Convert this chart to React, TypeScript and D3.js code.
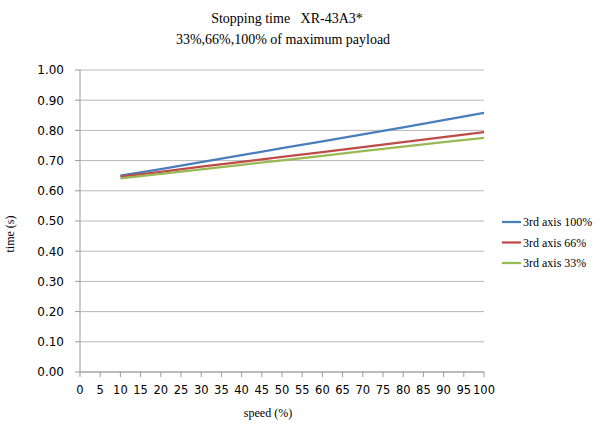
import React from "react";
import * as d3 from "d3";

// speed (%) at which the stopping time was measured
const speeds = [10, 20, 30, 40, 50, 60, 70, 80, 90, 100];

// stopping time (s) per payload
const axis100 = [0.650, 0.672, 0.695, 0.718, 0.741, 0.764, 0.787, 0.810, 0.834, 0.858];
const axis66 = [0.647, 0.663, 0.680, 0.696, 0.712, 0.728, 0.745, 0.761, 0.778, 0.794];
const axis33 = [0.641, 0.656, 0.671, 0.686, 0.701, 0.716, 0.731, 0.746, 0.761, 0.775];

const seriesNames = ["3rd axis 100%", "3rd axis 66%", "3rd axis 33%"];
const seriesColors = ["#4a7ebb", "#be4b48", "#98b954"];

const xTicks = d3.range(0, 101, 5);
const yTicks = d3.range(0, 1.001, 0.1);

const W = 600;
const H = 430;
const plot = { left: 80, right: 484, top: 70, bottom: 372 };

const App = () => {
  const x = d3.scaleLinear().domain([0, 100]).range([plot.left, plot.right]);
  const y = d3.scaleLinear().domain([0, 1]).range([plot.bottom, plot.top]);

  const line = d3
    .line<[number, number]>()
    .x((d) => x(d[0]))
    .y((d) => y(d[1]));

  const series = [axis100, axis66, axis33].map((vals) =>
    speeds.map((s, i) => [s, vals[i]] as [number, number])
  );

  const tickFont = "'DejaVu Sans', Verdana, sans-serif";
  const serif = "'Liberation Serif', 'Times New Roman', serif";

  return (
    <svg
      width={W}
      height={H}
      style={{ position: "absolute", left: 0, top: 0, background: "#fff" }}
    >
      {/* title */}
      <text x={287} y={23} textAnchor="middle" fontFamily={serif} fontSize={14} style={{ whiteSpace: "pre" }}>
        {"Stopping time   XR-43A3*"}
      </text>
      <text x={283} y={44} textAnchor="middle" fontFamily={serif} fontSize={14}>
        33%,66%,100% of maximum payload
      </text>

      {/* gridlines */}
      {yTicks.map((t) => (
        <line key={"g" + t} x1={plot.left} x2={plot.right} y1={y(t)} y2={y(t)} stroke="#b8b8b8" strokeWidth={1} />
      ))}

      {/* axes */}
      <line x1={plot.left} x2={plot.left} y1={plot.top} y2={plot.bottom} stroke="#9a9a9a" />
      <line x1={plot.left} x2={plot.right} y1={plot.bottom} y2={plot.bottom} stroke="#9a9a9a" />
      {yTicks.map((t) => (
        <g key={"y" + t}>
          <line x1={plot.left - 5} x2={plot.left} y1={y(t)} y2={y(t)} stroke="#9a9a9a" />
          <text x={64} y={y(t)} dy="0.36em" textAnchor="end" fontFamily={tickFont} fontSize={12}>
            {d3.format(".2f")(t)}
          </text>
        </g>
      ))}
      {xTicks.map((t) => (
        <g key={"x" + t}>
          <line x1={x(t)} x2={x(t)} y1={plot.bottom} y2={plot.bottom + 5} stroke="#9a9a9a" />
          <text x={x(t)} y={394} textAnchor="middle" fontFamily={tickFont} fontSize={11.5}>
            {t}
          </text>
        </g>
      ))}

      {/* axis titles */}
      <text x={268} y={417} textAnchor="middle" fontFamily={serif} fontSize={12}>
        speed (%)
      </text>
      <text
        transform={`translate(14,234) rotate(-90)`}
        textAnchor="middle"
        fontFamily={serif}
        fontSize={12}
      >
        time (s)
      </text>

      {/* lines */}
      {series.map((pts, i) => (
        <path key={"s" + i} d={line(pts) || ""} fill="none" stroke={seriesColors[i]} strokeWidth={2.25} />
      ))}

      {/* legend */}
      {seriesNames.map((name, i) => (
        <g key={"l" + i} transform={`translate(502,${222 + i * 20.5})`}>
          <line x1={0} x2={19} y1={0} y2={0} stroke={seriesColors[i]} strokeWidth={2.25} />
          <text x={21} y={0} dy="0.35em" fontFamily={serif} fontSize={12}>
            {name}
          </text>
        </g>
      ))}
    </svg>
  );
};

export default App;
